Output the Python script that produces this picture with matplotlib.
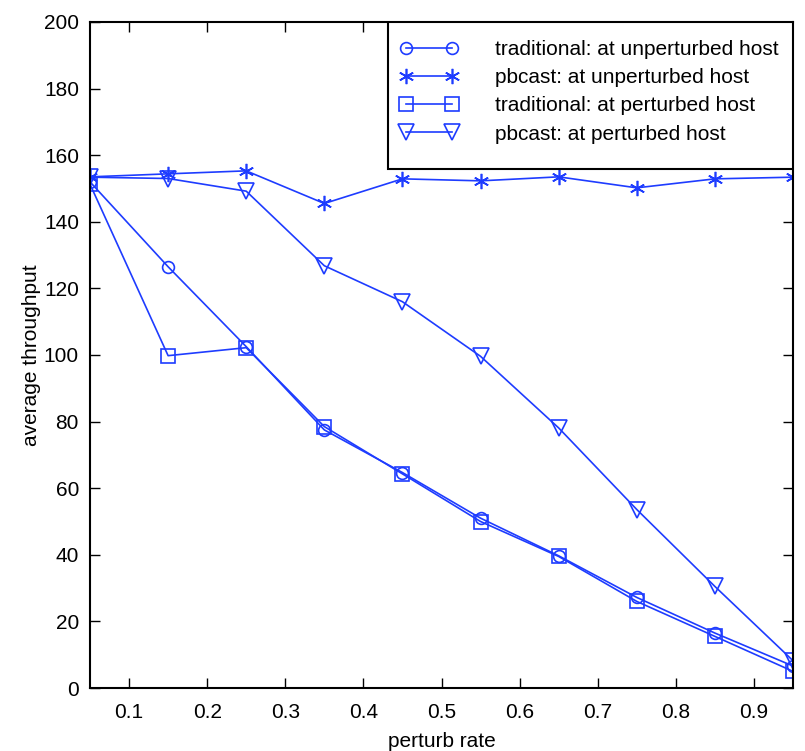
import matplotlib
matplotlib.use('Agg')
import matplotlib.pyplot as plt
from matplotlib import font_manager
from matplotlib.patches import Rectangle

# ===== DATA =====
perturb_rate = [0.05, 0.15, 0.25, 0.35, 0.45, 0.55, 0.65, 0.75, 0.85, 0.95]
trad_unperturbed = [152.0, 126.5, 102.5, 77.5, 64.7, 51.0, 39.7, 27.2, 16.5, 6.6]
pbcast_unperturbed = [153.5, 154.4, 155.3, 145.5, 152.9, 152.3, 153.5, 150.2, 152.9, 153.4]
trad_perturbed = [151.3, 99.8, 102.2, 78.5, 64.3, 50.0, 39.5, 26.0, 15.5, 5.0]
pbcast_perturbed = [153.4, 153.0, 149.2, 126.8, 116.0, 99.6, 78.1, 53.6, 30.5, 8.2]

labels = ['traditional: at unperturbed host',
          'pbcast: at unperturbed host',
          'traditional: at perturbed host',
          'pbcast: at perturbed host']

xticks = [0.1, 0.2, 0.3, 0.4, 0.5, 0.6, 0.7, 0.8, 0.9]
yticks = list(range(0, 201, 20))

# font: narrow helvetica look if available
names = {f.name for f in font_manager.fontManager.ttflist}
fam = ['Liberation Sans Narrow', 'DejaVu Sans'] if 'Liberation Sans Narrow' in names else ['Liberation Sans', 'DejaVu Sans']
plt.rcParams['font.family'] = fam

color = '#1e3cff'
fs = 15
W, H = 805, 751

fig = plt.figure(figsize=(W / 100, H / 100), dpi=100)
ax = fig.add_axes([90 / W, 1 - 688 / H, (793 - 90) / W, (688 - 22) / H])

common = dict(color=color, linewidth=1.2, markerfacecolor='none',
              markeredgecolor=color, markeredgewidth=1.2)
ax.plot(perturb_rate, trad_unperturbed, marker='o', markersize=8.5, label=labels[0], **common)
ax.plot(perturb_rate, pbcast_unperturbed, marker=(6, 2, 0), markersize=11, label=labels[1], **common)
ax.plot(perturb_rate, trad_perturbed, marker='s', markersize=10, label=labels[2], **common)
ax.plot(perturb_rate, pbcast_perturbed, marker='v', markersize=11, label=labels[3], **common)

ax.set_xlim(0.05, 0.95)
ax.set_ylim(0, 200)
ax.set_xticks(xticks)
ax.set_xticklabels([f'{t:g}' for t in xticks])
ax.set_yticks(yticks)
ax.tick_params(axis='both', direction='in', length=7, width=1.0, top=True, right=True,
               labelsize=fs)
ax.tick_params(axis='x', pad=11)
ax.tick_params(axis='y', pad=8)
for s in ax.spines.values():
    s.set_linewidth(1.5)

ax.set_xlabel('perturb rate', fontsize=fs, labelpad=7)
ax.set_ylabel('average throughput', fontsize=fs, labelpad=2)

# ===== LEGEND (MATLAB style box) =====
leg = ax.legend(loc='upper left', bbox_to_anchor=(400 / W, 1 - 40 / H),
                bbox_transform=fig.transFigure, fontsize=fs, numpoints=2,
                handlelength=2.8, handletextpad=1.75, labelspacing=0.44,
                borderpad=0, borderaxespad=0, frameon=False)
box = Rectangle((388 / W, 1 - 169 / H), (793 - 388) / W, (169 - 22) / H,
                transform=fig.transFigure, facecolor='white', edgecolor='black',
                linewidth=1.5, zorder=4)
ax.add_patch(box)
leg.set_zorder(5)

plt.savefig('out.png', dpi=100)
plt.close()
